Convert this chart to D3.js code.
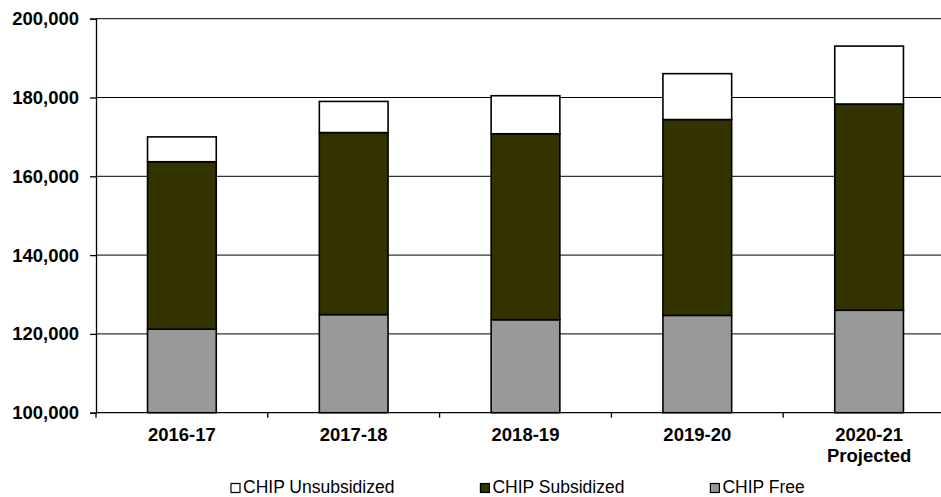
<!DOCTYPE html>
<html>
<head>
<meta charset="utf-8">
<script src="https://cdn.jsdelivr.net/npm/d3@7"></script>
<style>
  html, body { margin: 0; padding: 0; background: #fff; }
  svg { display: block; }
  text { font-family: "Liberation Sans", Arial, sans-serif; fill: #000; }
</style>
</head>
<body>
<svg id="chart" width="941" height="497"></svg>
<script>
const categories = ["2016-17", "2017-18", "2018-19", "2019-20", "2020-21\nProjected"];
const chipFree = [121200, 124900, 123600, 124700, 126000];
const chipSubsidized = [42500, 46200, 47200, 49700, 52350];
const chipUnsubsidized = [6300, 7900, 9650, 11650, 14700];
const yTicks = [100000, 120000, 140000, 160000, 180000, 200000];
const seriesNames = ["CHIP Free", "CHIP Subsidized", "CHIP Unsubsidized"];
const seriesColors = ["#999999", "#333300", "#ffffff"];
const legendOrder = ["CHIP Unsubsidized", "CHIP Subsidized", "CHIP Free"];

const svg = d3.select("#chart");
const mLeft = 96, mRight = 955, mTop = 18.7, mBottom = 412.7;

const rows = categories.map((c, i) => ({
  cat: c,
  "CHIP Free": chipFree[i],
  "CHIP Subsidized": chipSubsidized[i],
  "CHIP Unsubsidized": chipUnsubsidized[i]
}));
const stack = d3.stack().keys(seriesNames)(rows);

const x = d3.scaleBand().domain(categories).range([mLeft, mRight]).paddingInner(0.6).paddingOuter(0.3);
const y = d3.scaleLinear().domain([100000, 200000]).range([mBottom, mTop]);
const color = d3.scaleOrdinal().domain(seriesNames).range(seriesColors);

// gridlines
svg.append("g").selectAll("line").data(yTicks.slice(1)).join("line")
  .attr("x1", mLeft).attr("x2", mRight)
  .attr("y1", d => y(d)).attr("y2", d => y(d))
  .attr("stroke", "#000").attr("stroke-width", 1);

// bars
svg.append("g").selectAll("g").data(stack).join("g")
  .attr("fill", d => color(d.key))
  .selectAll("rect").data(d => d).join("rect")
  .attr("x", d => x(d.data.cat))
  .attr("width", x.bandwidth())
  .attr("y", d => y(Math.max(d[1], 100000)))
  .attr("height", d => y(Math.max(d[0], 100000)) - y(Math.max(d[1], 100000)))
  .attr("stroke", "#000").attr("stroke-width", 1.6);

// y axis
const yAxis = d3.axisLeft(y).tickValues(yTicks).tickSize(6).tickPadding(11)
  .tickFormat(d3.format(","));
const gy = svg.append("g").attr("transform", `translate(${mLeft},0)`).call(yAxis);
gy.select(".domain").attr("stroke", "#000").attr("stroke-width", 1.3);
gy.selectAll(".tick line").attr("stroke", "#000").attr("stroke-width", 1.3);
gy.selectAll(".tick text").attr("font-size", "18.5px").attr("font-weight", "bold")
  .attr("font-family", "Liberation Sans, Arial, sans-serif").attr("fill", "#000");

// x axis
const xb = d3.scaleLinear().domain([0, categories.length]).range([mLeft, mRight]);
const gx = svg.append("g").attr("transform", `translate(0,${mBottom})`);
gx.append("line").attr("x1", mLeft).attr("x2", mRight).attr("stroke", "#000").attr("stroke-width", 1.3);
gx.selectAll("line.tk").data(d3.range(categories.length + 1)).join("line").attr("class", "tk")
  .attr("x1", d => xb(d)).attr("x2", d => xb(d)).attr("y1", 0).attr("y2", 5)
  .attr("stroke", "#000").attr("stroke-width", 1.3);
const xl = gx.selectAll("text.lab").data(categories).join("text").attr("class", "lab")
  .attr("text-anchor", "middle")
  .attr("font-size", "18.5px").attr("font-weight", "bold")
  .attr("transform", d => `translate(${x(d) + x.bandwidth() / 2},28)`);
xl.selectAll("tspan").data(d => d.split("\n")).join("tspan")
  .attr("x", 0).attr("dy", (d, i) => i === 0 ? 0 : 21).text(d => d);

// legend
const legend = svg.append("g");
let lx = 231;
legendOrder.forEach(name => {
  const g = legend.append("g").attr("transform", `translate(${lx},0)`);
  g.append("rect").attr("x", 0).attr("y", 483.5).attr("width", 9).attr("height", 9)
    .attr("fill", color(name)).attr("stroke", "#000").attr("stroke-width", 1.2);
  const t = g.append("text").attr("x", 12).attr("y", 493).attr("font-size", "17.5px").text(name);
  const w = t.node().getComputedTextLength();
  lx += 12 + w + 86;
});
</script>
</body>
</html>
